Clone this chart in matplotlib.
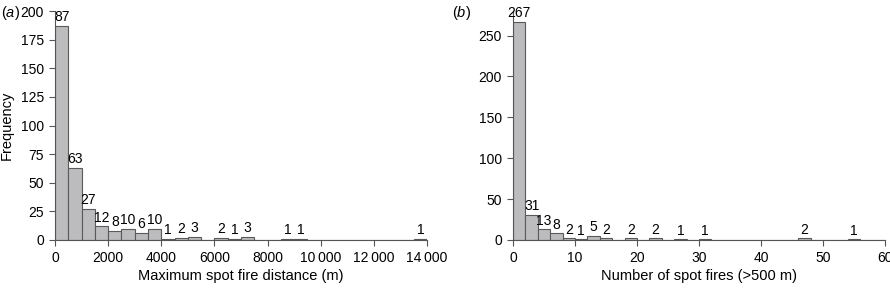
import matplotlib.pyplot as plt
import numpy as np

plt.rcParams['font.family'] = ['Liberation Sans', 'DejaVu Sans']
plt.rcParams['font.size'] = 10
plt.rcParams['mathtext.fontset'] = 'custom'
plt.rcParams['mathtext.it'] = 'Liberation Sans:italic'
plt.rcParams['mathtext.rm'] = 'Liberation Sans'

# (a) maximum spot fire distance, 500 m bins
dist_edges = np.arange(0, 14001, 500)
dist_counts = [187, 63, 27, 12, 8, 10, 6, 10, 1, 2, 3, 0, 2, 1, 3, 0, 0, 1, 1,
               0, 0, 0, 0, 0, 0, 0, 0, 1]
dist_labels = ['87', '63', '27', '12', '8', '10', '6', '10', '1', '2', '3', '', '2', '1', '3',
               '', '', '1', '1', '', '', '', '', '', '', '', '', '1']

# (b) number of spot fires, bins of 2
num_edges = np.arange(0, 61, 2)
num_counts = [267, 31, 13, 8, 2, 1, 5, 2, 0, 2, 0, 2, 0, 1, 0, 1,
              0, 0, 0, 0, 0, 0, 0, 2, 0, 0, 0, 1, 0, 0]

face = '#bcbcbe'
edge = '#5a5a5a'

fig = plt.figure(figsize=(8.9, 2.88), dpi=100)
ax1 = fig.add_axes([0.0618, 0.1667, 0.418, 0.795])
ax2 = fig.add_axes([0.5764, 0.1667, 0.418, 0.795])

def style(ax):
    for s in ['top', 'right']:
        ax.spines[s].set_visible(False)
    for s in ['left', 'bottom']:
        ax.spines[s].set_color('#555555')
        ax.spines[s].set_linewidth(0.8)
    ax.tick_params(direction='out', length=4, width=0.8, color='#555555', labelsize=10, pad=4)

ax1.bar(dist_edges[:-1], dist_counts, width=500, align='edge', color=face, edgecolor=edge, linewidth=0.8)
for x, c, lab in zip(dist_edges[:-1], dist_counts, dist_labels):
    if lab:
        ax1.text(x + 250, c + 1.5, lab, ha='center', va='bottom', fontsize=10)
ax1.set_xlim(0, 14000)
ax1.set_ylim(0, 200)
ax1.set_xticks(np.arange(0, 14001, 2000))
ax1.set_xticklabels(['0', '2000', '4000', '6000', '8000', '10\u2009000', '12\u2009000', '14\u2009000'])
ax1.set_yticks(np.arange(0, 201, 25))
ax1.set_xlabel('Maximum spot fire distance (m)', fontsize=10.5, labelpad=3)
ax1.set_ylabel('Frequency', fontsize=10.5, labelpad=5)
style(ax1)

ax2.bar(num_edges[:-1], num_counts, width=2, align='edge', color=face, edgecolor=edge, linewidth=0.8)
for x, c in zip(num_edges[:-1], num_counts):
    if c > 0:
        ax2.text(x + 1, c + 2, str(c), ha='center', va='bottom', fontsize=10)
ax2.set_xlim(0, 60)
ax2.set_ylim(0, 280)
ax2.set_xticks(np.arange(0, 61, 10))
ax2.set_yticks(np.arange(0, 251, 50))
ax2.set_xlabel('Number of spot fires (>500 m)', fontsize=10.5, labelpad=3)
style(ax2)

fig.text(0.001, 0.985, '($a$)', fontsize=10.5, va='top')
fig.text(0.508, 0.985, '($b$)', fontsize=10.5, va='top')

fig.savefig('out.png', dpi=100)
